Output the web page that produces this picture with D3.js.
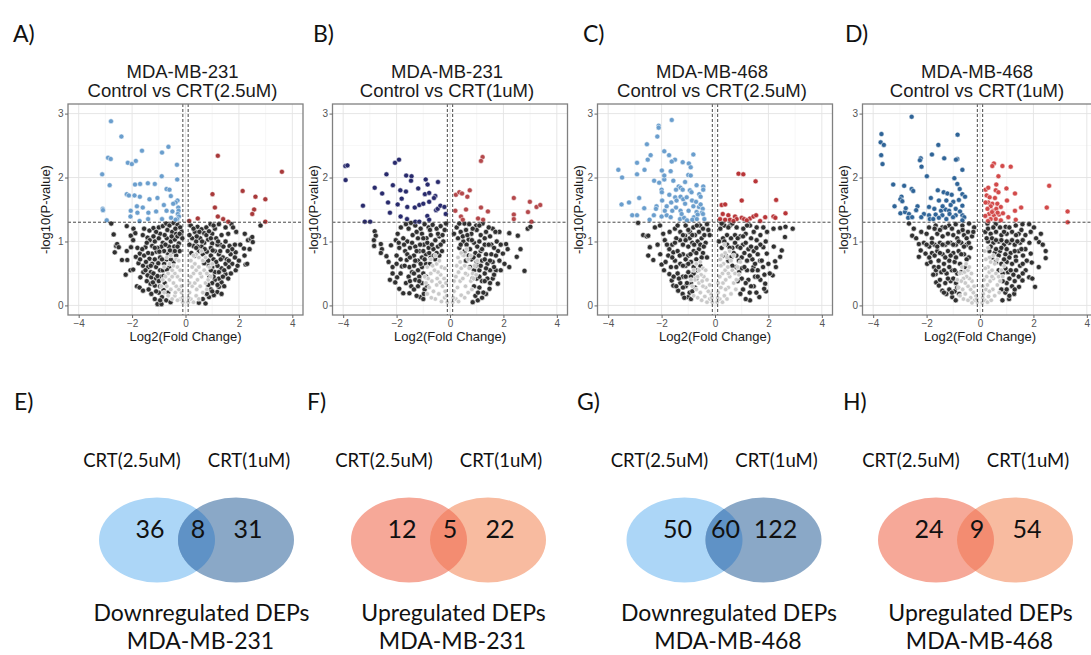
<!DOCTYPE html>
<html>
<head>
<meta charset="utf-8">
<script src="https://cdn.jsdelivr.net/npm/d3@7"></script>
<style>
  body { margin: 0; background: #fff; }
  svg { display: block; }
</style>
</head>
<body>
<div id="fig"></div>
<script>
// ===== data =====
var volcanoTitles = [
  ["MDA-MB-231", "Control vs CRT(2.5uM)"],
  ["MDA-MB-231", "Control vs CRT(1uM)"],
  ["MDA-MB-468", "Control vs CRT(2.5uM)"],
  ["MDA-MB-468", "Control vs CRT(1uM)"]
];
var topLetters = ["A)", "B)", "C)", "D)"];
var xTicks = [-4, -2, 0, 2, 4];
var xMinor = [-3, -1, 1, 3];
var yTicks = [0, 1, 2, 3];
var yMinor = [0.5, 1.5, 2.5];
var fcCut = 0.1;     // log2 fold change cut (dashed verticals)
var pCut = 1.301;    // -log10(0.05)

// panel A: MDA-MB-231, CRT 2.5uM  [log2FC, -log10 p]
var aDown = [[-2.79,2.88],[-2.4,2.64],[-2.9,2.31],[-2.8,2.29],[-3.12,2.05],[-2.84,1.88],[-3.1,1.51],[-3.09,1.49],[-2.95,1.33],[-2.16,2.23],[-2.01,2.21],[-1.86,2.26],[-1.63,2.42],[-0.88,2.39],[-0.64,2.48],[-0.32,2.2],[-0.31,1.97],[-0.89,2.02],[-1.89,1.89],[-1.7,1.9],[-1.41,1.91],[-1.15,1.9],[-2.2,1.74],[-2.12,1.72],[-1.91,1.72],[-1.71,1.7],[-1.35,1.66],[-1.05,1.68],[-0.71,1.82],[-0.6,1.81],[-0.55,1.71],[-0.3,1.64],[-0.37,1.61],[-0.46,1.59],[-0.81,1.57],[-1.82,1.55],[-1.6,1.53],[-2.05,1.48],[-1.8,1.45],[-1.39,1.45],[-1.1,1.47],[-0.71,1.48],[-0.49,1.47],[-0.27,1.53],[-0.26,1.48],[-0.29,1.43],[-0.25,1.39],[-0.31,1.35],[-2.06,1.39],[-1.72,1.32],[-1.4,1.35],[-0.88,1.35],[-0.54,1.37],[-0.37,1.34]];
var aUp = [[1.21,2.34],[3.61,2.09],[1.01,1.74],[2.14,1.79],[2.62,1.7],[2.99,1.66],[1.1,1.53],[2.57,1.5],[2.5,1.43],[1.21,1.39],[1.41,1.35],[1.6,1.31],[0.46,1.36],[0.14,1.32],[2.99,1.31]];
var aNs = [[-2.78,1.28],[-2.2,1.24],[-1.95,1.2],[-1.55,1.2],[-1.35,1.17],[-1.2,1.21],[-1.0,1.22],[-0.85,1.24],[-0.72,1.28],[-0.6,1.25],[-0.45,1.29],[-0.3,1.26],[-0.2,1.22],[-0.5,1.15],[-0.95,1.12],[-1.1,1.15],[-0.35,1.12],[-2.69,1.11],[-1.88,1.13],
  [0.2,1.25],[0.45,1.23],[0.6,1.19],[0.78,1.22],[0.94,1.27],[1.1,1.2],[1.25,1.27],[1.5,1.22],[1.72,1.27],[1.78,1.22],[0.35,1.15],[0.7,1.13],[1.0,1.12],[2.22,1.12],[2.81,1.25],
  [-2.05,1.09],[-1.96,1.02],[-2.6,0.93],[-2.56,0.96],[-2.5,0.91],[-1.8,0.9],[-1.5,0.91],[-1.42,1.06],[-1.34,1.02],[-1.15,1.0],[-1.0,1.05],[-0.85,0.98],[-0.7,1.05],[-0.55,1.0],[-0.4,1.03],[-0.25,0.97],[-0.62,0.92],[-1.25,0.93],[-0.9,0.92],[-0.3,1.08],
  [0.25,1.05],[0.4,1.0],[0.55,1.05],[0.7,0.98],[0.85,1.03],[1.0,0.97],[1.15,1.05],[1.3,0.95],[1.5,1.0],[1.65,0.93],[2.34,1.02],[2.44,1.04],[2.5,1.07],[2.52,0.99],[0.3,0.93],[0.6,0.92],[0.95,0.9],[1.85,0.95],
  [-2.65,0.83],[-2.2,0.85],[-2.04,0.91],[-2.38,0.71],[-2.18,0.71],[-1.71,0.81],[-1.86,0.76],[-1.25,0.81],[-1.08,0.84],[-1.35,0.73],[-1.55,0.78],[-0.95,0.75],[-0.8,0.85],[-0.65,0.8],[-0.5,0.84],[-0.35,0.78],[-0.22,0.85],[-1.15,0.72],[-0.7,0.72],
  [0.22,0.82],[0.35,0.78],[0.5,0.85],[0.65,0.8],[0.8,0.84],[0.95,0.78],[1.1,0.85],[1.25,0.8],[1.4,0.75],[1.69,0.8],[1.88,0.83],[2.19,0.89],[2.4,0.88],[2.21,0.78],[2.0,0.7],[1.55,0.72],[1.05,0.72],
  [-1.76,0.66],[-1.59,0.62],[-2.06,0.55],[-1.96,0.56],[-1.58,0.52],[-1.4,0.6],[-1.25,0.65],[-1.1,0.6],[-0.95,0.55],[-0.8,0.65],[-1.3,0.52],
  [1.75,0.65],[1.62,0.6],[1.88,0.55],[2.25,0.64],[2.31,0.65],[1.5,0.65],[1.35,0.58],[1.2,0.62],[1.1,0.52],
  [-2.24,0.48],[-1.69,0.44],[-1.42,0.47],[-1.28,0.44],[-1.31,0.34],[-1.15,0.31],[-1.1,0.42],[-1.0,0.38],[-0.9,0.45],
  [1.5,0.49],[1.35,0.36],[1.25,0.42],[1.1,0.4],[1.0,0.35],[1.6,0.42],[0.9,0.45],
  [-1.82,0.3],[-1.72,0.28],[-1.59,0.23],[-1.28,0.18],[-1.05,0.02],[-0.9,0.02],[-0.88,0.13],[-0.72,0.08],[-0.56,0.05],[-1.0,0.2],
  [1.25,0.29],[1.19,0.21],[0.75,0.03],[0.5,0.04],[0.88,0.13],[1.06,0.16],[0.95,0.25],[0.65,0.1],
  [-0.15,1.15],[-0.42,0.92],[-0.78,1.1],[-1.05,0.9],[-0.6,0.6],[-0.45,0.68],[-0.85,0.55],[0.15,1.1],[0.45,0.92],[0.78,1.1],[1.2,0.95],[0.88,0.62],[0.7,0.66],[1.0,0.6],[0.15,0.95],[-0.12,1.05]];
var aNsInner = [[-1.6,1.1],[-1.45,0.98],[-1.2,1.08],[-0.68,1.18],[-0.52,1.08],[-0.38,1.2],[-0.22,1.12],[-1.62,0.88],[-1.4,0.82],[-1.15,0.9],[-0.98,0.84],[-0.75,0.95],[-0.58,0.86],[-0.3,0.92],[-1.7,0.72],[-1.48,0.68],[-1.3,0.62],[-1.02,0.66],[-0.88,0.72],[-0.55,0.72],[-0.4,0.85],[-1.5,0.55],[-1.2,0.5],[-1.05,0.46],[-0.82,0.46],[-0.7,0.56],[-1.45,0.38],[-1.22,0.36],[-0.95,0.3],[-0.78,0.35],[-1.38,0.25],[-1.1,0.22],[-0.82,0.24],[-0.65,0.2],[-1.15,0.1],[-0.95,0.08],
  [0.3,1.2],[0.52,1.15],[0.88,1.16],[1.05,1.25],[1.35,1.1],[1.6,1.12],[1.9,1.15],[0.42,1.08],[0.62,1.0],[0.95,1.05],[1.22,1.0],[1.42,0.92],[1.75,0.88],[2.05,0.95],[0.4,0.9],[0.72,0.88],[1.02,0.86],[1.3,0.85],[1.58,0.85],[1.85,0.75],[0.85,0.7],[1.15,0.68],[1.32,0.72],[1.62,0.7],[1.95,0.62],[0.95,0.55],[1.25,0.52],[1.45,0.55],[1.7,0.5],[1.05,0.45],[1.4,0.45],[1.2,0.32],[1.45,0.3],[0.85,0.32],[1.0,0.22],[0.8,0.18],[1.35,0.18]];
var aCore = [[-0.1,0.05],[-0.2,0.1],[-0.3,0.08],[-0.15,0.2],[-0.25,0.25],[-0.4,0.15],[-0.5,0.1],[-0.35,0.3],[-0.45,0.35],[-0.55,0.25],[-0.6,0.4],[-0.3,0.45],[-0.2,0.4],[-0.4,0.5],[-0.5,0.55],[-0.65,0.5],[-0.7,0.3],[-0.75,0.45],[-0.6,0.65],[-0.45,0.62],[-0.3,0.6],[-0.2,0.55],[-0.8,0.6],[-0.85,0.4],[-0.7,0.75],[-0.55,0.78],[-0.35,0.72],[-0.25,0.7],[-0.15,0.3],[-0.65,0.15],[-0.8,0.2],[-0.9,0.3],[-0.5,0.45],[-0.38,0.2],[-0.12,0.12],
  [0.1,0.05],[0.2,0.1],[0.3,0.05],[0.15,0.2],[0.25,0.3],[0.4,0.15],[0.5,0.1],[0.35,0.35],[0.45,0.4],[0.55,0.3],[0.6,0.45],[0.3,0.5],[0.2,0.45],[0.4,0.55],[0.5,0.6],[0.7,0.55],[0.75,0.35],[0.8,0.5],[0.65,0.7],[0.5,0.75],[0.35,0.65],[0.25,0.6],[0.9,0.6],[0.85,0.4],[0.75,0.75],[0.6,0.85],[0.4,0.8],[0.3,0.78],[0.15,0.35],[0.65,0.2],[0.8,0.25],[0.95,0.45],[0.55,0.5],[0.42,0.25],[0.12,0.12],[1.0,0.65],[0.2,0.7]];

// panel B: MDA-MB-231, CRT 1uM
var bDown = [[-3.92,2.18],[-3.84,2.19],[-3.91,1.96],[-2.06,2.23],[-1.91,2.28],[-2.38,2.05],[-1.64,2.03],[-1.44,2.02],[-1.46,1.95],[-0.91,1.97],[-0.45,1.93],[-0.84,1.89],[-2.82,1.84],[-2.14,1.88],[-1.86,1.8],[-1.65,1.78],[-1.19,1.83],[-0.94,1.74],[-0.78,1.76],[-2.54,1.75],[-0.55,1.71],[-0.6,1.68],[-1.81,1.67],[-3.26,1.56],[-2.32,1.61],[-1.96,1.58],[-1.6,1.54],[-1.32,1.53],[-1.15,1.57],[-1.0,1.59],[-0.78,1.62],[-0.52,1.49],[-0.46,1.51],[-0.36,1.56],[-0.21,1.54],[-0.16,1.43],[-2.25,1.45],[-1.85,1.39],[-1.61,1.35],[-3.19,1.31],[-2.99,1.31],[-1.3,1.31],[-1.15,1.31],[-0.85,1.4],[-0.78,1.34]];
var bUp = [[1.22,2.32],[1.16,2.26],[0.22,1.73],[0.35,1.77],[0.45,1.75],[0.74,1.8],[0.65,1.7],[2.39,1.68],[2.99,1.62],[3.24,1.54],[3.38,1.57],[0.2,1.48],[0.6,1.5],[1.16,1.53],[1.42,1.47],[0.41,1.39],[0.48,1.34],[1.05,1.36],[1.24,1.34],[2.39,1.42],[2.39,1.35],[2.92,1.46],[3.05,1.31]];
var bNs = [[-2.82,1.16],[-2.78,1.09],[-2.85,1.02],[-2.84,0.93],[-2.59,0.96],[-2.55,0.88],[-2.59,0.82],[-2.38,0.77],[-2.3,0.68],[-2.15,0.6],[-2.21,0.94],[-2.03,1.02],[-1.96,1.12],[-1.84,1.22],[-1.65,1.27],[-1.46,1.29],[-2.25,0.4],[-2.05,0.36],[-1.98,0.44],[-1.9,0.26],[-1.75,0.19],[-1.52,0.19],[-1.11,0.13],[-1.0,0.1],[-1.68,0.85],[-1.62,0.71],[-1.52,0.6],[-1.42,0.52],[-1.8,0.61],
  [0.54,1.28],[0.72,1.27],[0.98,1.25],[1.22,1.28],[1.6,1.2],[1.85,1.15],[2.22,1.13],[2.54,1.09],[2.64,0.88],[2.5,0.76],[2.79,0.54],[2.91,1.2],[3.01,1.23],[2.1,0.96],[2.16,0.88],[1.98,0.81],[2.04,0.65],[2.22,0.6],[1.72,0.55],[1.6,0.42],[1.79,0.34],[1.48,0.26],[1.35,0.18],[1.04,0.08],[0.85,0.05],
  [-1.3,1.25],[-1.1,1.2],[-0.95,1.27],[-0.8,1.22],[-0.65,1.26],[-0.5,1.2],[-0.35,1.24],[-0.2,1.18],[-1.4,1.1],[-1.2,1.05],[-1.05,1.12],[-0.88,1.05],[-0.72,1.1],[-0.55,1.02],[-0.4,1.08],[-0.25,1.0],[-1.6,1.0],[-1.75,1.05],[-1.5,0.9],[-1.3,0.92],[-1.15,0.85],[-0.98,0.95],[-0.8,0.9],[-0.62,0.88],[-0.45,0.92],[-0.3,0.85],[-1.9,0.9],[-2.0,0.78],[-1.85,0.72],[-1.35,0.78],[-1.2,0.7],[-1.05,0.75],[-0.9,0.8],[-0.72,0.75],[-0.55,0.72],[-0.4,0.78],[-1.35,0.62],[-1.2,0.55],[-1.05,0.6],[-0.9,0.65],[-1.3,0.4],[-1.15,0.45],[-1.0,0.5],[-1.2,0.3],[-1.05,0.35],[-0.95,0.25],[-2.15,0.5],[-1.65,0.35],[-1.45,0.3],
  [0.25,1.22],[0.4,1.15],[0.6,1.18],[0.8,1.12],[1.0,1.18],[1.15,1.1],[1.35,1.15],[1.5,1.08],[0.3,1.05],[0.5,1.0],[0.7,1.03],[0.9,0.98],[1.1,1.0],[1.3,0.95],[1.55,0.95],[1.75,1.0],[0.35,0.9],[0.55,0.85],[0.75,0.88],[0.95,0.82],[1.15,0.85],[1.35,0.8],[1.55,0.8],[1.8,0.85],[0.6,0.7],[0.8,0.72],[1.0,0.68],[1.2,0.7],[1.4,0.65],[1.6,0.68],[1.85,0.7],[0.9,0.55],[1.1,0.55],[1.3,0.5],[1.5,0.55],[1.0,0.42],[1.2,0.38],[1.4,0.42],[1.1,0.28],[1.25,0.2],[0.95,0.15],[0.15,1.12],[-0.15,1.28]];
var bNsInner = [[-1.55,1.2],[-1.25,1.15],[-1.0,1.05],[-0.75,1.18],[-0.45,1.12],[-0.28,1.1],[-1.72,0.95],[-1.42,0.98],[-1.12,0.95],[-0.85,0.98],[-0.68,0.95],[-0.5,0.82],[-0.35,0.95],[-1.6,0.8],[-1.25,0.85],[-1.0,0.85],[-0.78,0.82],[-0.6,0.78],[-1.7,0.62],[-1.5,0.75],[-1.3,0.7],[-1.1,0.65],[-0.95,0.72],[-0.75,0.65],[-1.55,0.45],[-1.35,0.5],[-1.15,0.38],[-0.9,0.45],[-1.5,0.38],[-1.35,0.25],[-1.25,0.15],[-0.98,0.18],[-0.85,0.3],[-1.85,0.5],[-2.0,0.65],[-1.92,0.98],
  [0.35,1.28],[0.48,1.08],[0.65,1.1],[0.85,1.2],[1.1,1.25],[1.3,1.05],[1.45,1.22],[1.7,1.15],[0.4,0.95],[0.62,0.95],[0.82,1.02],[1.02,0.92],[1.2,0.88],[1.45,0.95],[1.65,0.9],[1.9,0.95],[0.5,0.8],[0.7,0.78],[0.88,0.75],[1.08,0.78],[1.3,0.72],[1.5,0.7],[1.72,0.78],[0.75,0.6],[0.95,0.62],[1.15,0.62],[1.35,0.58],[1.65,0.6],[1.9,0.55],[0.85,0.42],[1.1,0.45],[1.3,0.38],[1.5,0.35],[1.65,0.48],[0.9,0.3],[1.2,0.12],[1.05,0.2]];
var bCore = [[-0.1,0.05],[-0.2,0.12],[-0.32,0.06],[-0.18,0.22],[-0.28,0.3],[-0.42,0.18],[-0.55,0.1],[-0.38,0.36],[-0.5,0.32],[-0.62,0.22],[-0.68,0.38],[-0.35,0.48],[-0.22,0.42],[-0.45,0.52],[-0.58,0.55],[-0.72,0.5],[-0.78,0.28],[-0.82,0.42],[-0.65,0.62],[-0.5,0.65],[-0.32,0.6],[-0.2,0.58],[-0.85,0.6],[-0.9,0.35],[-0.72,0.72],[-0.55,0.78],[-0.4,0.7],[-0.15,0.35],[-0.7,0.12],[-0.85,0.18],[-0.95,0.45],[-0.48,0.42],[-0.12,0.15],
  [0.1,0.05],[0.22,0.1],[0.32,0.06],[0.15,0.22],[0.28,0.28],[0.42,0.16],[0.55,0.12],[0.38,0.38],[0.48,0.42],[0.58,0.3],[0.65,0.48],[0.32,0.52],[0.22,0.45],[0.42,0.58],[0.55,0.62],[0.72,0.58],[0.78,0.38],[0.85,0.5],[0.68,0.72],[0.52,0.78],[0.38,0.68],[0.25,0.62],[0.92,0.62],[0.88,0.42],[0.78,0.78],[0.62,0.88],[0.42,0.82],[0.15,0.38],[0.68,0.2],[0.82,0.25],[0.98,0.48],[0.58,0.5],[0.12,0.12],[1.02,0.7],[0.3,0.75]];

// panel C: MDA-MB-468, CRT 2.5uM
var cDown = [[-1.62,2.9],[-2.11,2.81],[-2.11,2.78],[-2.16,2.64],[-2.55,2.52],[-2.41,2.35],[-2.52,2.28],[-2.92,2.23],[-1.9,2.41],[-1.72,2.35],[-1.5,2.28],[-1.62,2.25],[-1.21,2.24],[-0.98,2.22],[-0.81,2.36],[-0.91,2.16],[-3.62,2.12],[-3.48,2.0],[-2.64,2.12],[-2.92,2.05],[-1.99,2.11],[-1.66,2.1],[-2.28,1.95],[-1.9,1.97],[-2.09,1.92],[-1.9,2.03],[-1.0,2.04],[-0.91,2.03],[-1.36,1.86],[-1.29,1.84],[-1.21,1.81],[-1.46,1.81],[-2.0,1.81],[-1.99,1.77],[-0.94,1.8],[-0.88,1.77],[-0.59,1.74],[-0.54,1.7],[-0.44,1.86],[-0.44,1.81],[-1.71,1.73],[-1.49,1.69],[-1.29,1.7],[-1.19,1.66],[-2.84,1.68],[-3.5,1.58],[-3.22,1.61],[-1.98,1.64],[-1.64,1.61],[-0.86,1.64],[-0.71,1.62],[-2.19,1.55],[-2.21,1.51],[-1.81,1.55],[-1.46,1.53],[-1.12,1.59],[-0.81,1.55],[-0.6,1.54],[-0.46,1.51],[-2.65,1.52],[-1.6,1.48],[-1.29,1.48],[-0.99,1.48],[-0.69,1.46],[-0.49,1.45],[-2.29,1.41],[-2.0,1.39],[-1.81,1.41],[-3.1,1.41],[-2.92,1.41],[-1.66,1.38],[-1.31,1.35],[-1.16,1.37],[-0.79,1.38],[-0.65,1.42],[-0.45,1.43],[-0.85,1.34],[-0.68,1.35],[-1.56,1.95],[-1.12,1.93],[-0.69,1.88],[-1.06,1.69],[-1.44,1.64],[-1.88,1.48],[-1.25,1.43],[-0.54,1.58],[-0.4,1.35],[-1.05,1.33],[-2.45,1.34]];
var cUp = [[0.88,2.06],[1.06,2.05],[1.52,1.94],[2.29,1.65],[1.0,1.64],[0.25,1.57],[0.38,1.58],[2.64,1.44],[0.29,1.43],[0.5,1.41],[0.19,1.35],[0.38,1.34],[0.75,1.39],[0.81,1.35],[1.0,1.37],[1.09,1.35],[1.31,1.36],[1.44,1.39],[1.54,1.41],[1.88,1.38],[2.19,1.39],[2.26,1.37],[0.56,1.34],[0.69,1.32],[1.19,1.33],[1.69,1.32]];
var cNs = [[-2.88,1.29],[-2.69,1.1],[-2.56,1.08],[-2.5,1.09],[-2.44,0.91],[-2.5,0.78],[-2.31,0.71],[-2.25,1.22],[-2.06,1.25],[-1.94,1.12],[-1.88,1.02],[-2.0,0.64],[-1.91,0.55],[-1.71,0.49],[-1.62,0.39],[-1.56,0.31],[-1.38,0.23],[-1.21,0.18],[-1.0,0.13],[-1.71,0.88],[-1.75,0.78],[-1.56,0.83],[-1.31,1.02],[-1.12,1.09],[-0.94,1.15],[-0.81,1.22],[-0.56,1.25],
  [0.56,1.25],[0.81,1.22],[1.06,1.2],[1.31,1.25],[1.56,1.22],[1.81,1.22],[2.19,1.2],[2.44,1.21],[2.64,1.23],[2.91,1.2],[2.62,1.07],[2.5,0.86],[2.44,0.76],[2.25,0.69],[2.28,0.6],[2.16,0.47],[1.88,0.34],[1.91,0.22],[1.84,0.26],[1.66,0.13],[1.31,0.08],[1.56,1.02],[1.81,0.91],[1.94,0.81],[1.69,0.7],[1.44,0.6],
  [-1.5,1.2],[-1.3,1.15],[-1.1,1.25],[-0.95,1.05],[-0.75,1.1],[-0.6,1.15],[-0.45,1.2],[-0.3,1.27],[-0.2,1.1],[-1.45,1.05],[-1.6,0.95],[-1.2,0.95],[-1.0,0.92],[-0.85,0.98],[-0.65,1.0],[-0.5,1.05],[-0.35,0.98],[-1.4,0.85],[-1.2,0.8],[-1.0,0.78],[-0.8,0.85],[-0.6,0.88],[-0.45,0.82],[-0.3,0.75],[-1.5,0.7],[-1.3,0.65],[-1.1,0.62],[-0.9,0.68],[-0.7,0.72],[-0.55,0.62],[-1.85,0.68],[-1.4,0.5],[-1.2,0.45],[-1.0,0.52],[-0.8,0.5],[-1.3,0.35],[-1.1,0.3],[-0.9,0.35],[-0.95,0.2],[-0.75,0.28],[-2.15,0.95],[-2.05,0.8],
  [0.2,1.2],[0.35,1.25],[0.45,1.1],[0.3,1.05],[0.6,1.05],[0.75,1.1],[0.95,1.08],[1.15,1.12],[1.35,1.05],[0.25,0.9],[0.45,0.95],[0.65,0.9],[0.85,0.92],[1.05,0.95],[1.25,0.88],[1.45,0.85],[1.7,0.95],[0.4,0.78],[0.6,0.75],[0.8,0.78],[1.0,0.75],[1.2,0.7],[1.4,0.72],[1.6,0.8],[0.8,0.6],[1.0,0.58],[1.2,0.55],[1.6,0.55],[1.8,0.6],[2.0,0.65],[1.0,0.42],[1.25,0.4],[1.5,0.45],[1.7,0.4],[1.05,0.25],[1.3,0.2],[1.45,0.3],[2.05,0.5],[2.2,0.92],[0.15,1.0]];
var cNsInner = [[-1.7,1.15],[-1.4,1.25],[-1.2,1.1],[-1.0,1.18],[-0.85,1.1],[-0.68,1.25],[-0.4,1.1],[-0.25,1.18],[-1.8,0.95],[-1.5,0.98],[-1.1,1.02],[-0.78,0.95],[-0.55,0.95],[-0.42,0.92],[-1.6,0.75],[-1.32,0.78],[-1.1,0.72],[-0.92,0.8],[-0.7,0.82],[-0.5,0.75],[-1.65,0.6],[-1.45,0.6],[-1.2,0.62],[-1.0,0.65],[-0.8,0.6],[-0.65,0.55],[-1.55,0.45],[-1.35,0.42],[-1.1,0.45],[-0.9,0.45],[-0.7,0.42],[-1.45,0.3],[-1.2,0.28],[-1.05,0.35],[-0.85,0.22],[-1.15,0.12],[-0.9,0.1],
  [0.25,1.28],[0.5,1.22],[0.65,1.28],[0.85,1.05],[1.05,1.08],[1.2,1.25],[1.45,1.15],[1.7,1.1],[1.95,1.15],[0.35,1.0],[0.55,0.9],[0.75,0.98],[0.95,0.9],[1.15,0.98],[1.35,0.92],[1.55,0.9],[1.9,1.0],[0.3,0.78],[0.5,0.7],[0.7,0.82],[0.9,0.7],[1.1,0.82],[1.3,0.78],[1.5,0.65],[1.75,0.7],[0.65,0.62],[0.9,0.52],[1.1,0.6],[1.4,0.55],[1.6,0.45],[1.85,0.48],[0.85,0.38],[1.15,0.35],[1.35,0.3],[0.95,0.18],[1.15,0.1],[1.55,0.2]];
var cCore = [[-0.1,0.05],[-0.2,0.1],[-0.3,0.05],[-0.15,0.18],[-0.25,0.22],[-0.38,0.14],[-0.5,0.08],[-0.35,0.28],[-0.45,0.3],[-0.55,0.2],[-0.6,0.35],[-0.3,0.4],[-0.42,0.45],[-0.52,0.48],[-0.65,0.45],[-0.7,0.25],[-0.75,0.4],[-0.6,0.55],[-0.45,0.58],[-0.35,0.55],[-0.8,0.55],[-0.85,0.3],[-0.7,0.65],[-0.55,0.68],[-0.65,0.12],[-0.8,0.15],[-0.9,0.4],[-0.48,0.38],[-0.12,0.12],[-0.2,0.32],
  [0.08,0.05],[0.18,0.1],[0.28,0.05],[0.12,0.2],[0.22,0.28],[0.35,0.15],[0.45,0.1],[0.3,0.35],[0.4,0.4],[0.5,0.28],[0.55,0.45],[0.28,0.5],[0.18,0.45],[0.38,0.55],[0.48,0.6],[0.65,0.55],[0.7,0.35],[0.75,0.5],[0.6,0.7],[0.45,0.75],[0.32,0.65],[0.22,0.62],[0.85,0.6],[0.8,0.4],[0.7,0.78],[0.55,0.85],[0.38,0.82],[0.25,0.78],[0.12,0.35],[0.6,0.18],[0.78,0.25],[0.9,0.48],[0.5,0.5],[0.4,0.25],[0.1,0.12],[0.95,0.68],[0.2,0.72],[0.35,0.95]];

// panel D: MDA-MB-468, CRT 1uM
var dDown = [[-2.56,2.95],[-3.69,2.68],[-3.72,2.55],[-3.6,2.51],[-3.7,2.35],[-3.65,2.21],[-0.84,2.67],[-1.56,2.51],[-1.8,2.36],[-2.22,2.3],[-2.25,2.27],[-1.34,2.3],[-0.85,2.29],[-0.9,2.28],[-2.19,2.17],[-0.66,2.12],[-1.99,2.02],[-0.96,1.99],[-3.25,1.89],[-2.84,1.87],[-2.56,1.82],[-2.5,1.79],[-0.85,1.9],[-0.76,1.82],[-1.58,1.8],[-1.36,1.77],[-1.22,1.75],[-1.06,1.73],[-0.66,1.74],[-0.56,1.7],[-2.94,1.7],[-2.98,1.66],[-2.91,1.63],[-1.84,1.68],[-1.54,1.64],[-1.26,1.64],[-1.0,1.62],[-0.79,1.65],[-3.2,1.55],[-2.34,1.55],[-2.39,1.49],[-1.91,1.54],[-1.71,1.51],[-1.46,1.48],[-1.29,1.5],[-1.16,1.48],[-0.91,1.51],[-0.66,1.56],[-2.98,1.44],[-2.81,1.46],[-2.66,1.43],[-2.1,1.43],[-1.91,1.41],[-1.66,1.42],[-1.41,1.41],[-1.14,1.43],[-0.91,1.41],[-2.69,1.37],[-2.54,1.38],[-1.88,1.35],[-1.54,1.37],[-1.26,1.35],[-1.01,1.38],[-0.66,1.41],[-0.59,1.38],[-0.66,1.33],[-1.4,1.55],[-1.1,1.57],[-0.75,1.47],[-2.78,1.52],[-1.75,1.35],[-2.2,1.38]];
var dUp = [[0.52,2.22],[0.46,2.18],[0.84,2.18],[1.15,2.17],[0.69,2.02],[0.21,1.81],[0.31,1.84],[0.61,1.89],[0.59,1.8],[0.69,1.77],[0.99,1.83],[1.31,1.75],[2.59,1.87],[0.25,1.72],[0.36,1.69],[0.56,1.68],[1.01,1.64],[0.31,1.61],[0.46,1.59],[0.4,1.55],[0.65,1.59],[0.78,1.54],[0.28,1.51],[0.49,1.48],[0.61,1.51],[1.54,1.53],[2.5,1.53],[1.31,1.48],[3.28,1.47],[3.28,1.3],[0.34,1.43],[0.52,1.41],[0.71,1.42],[0.86,1.44],[0.4,1.35],[0.59,1.35],[0.78,1.33],[1.34,1.34],[1.06,1.38],[0.21,1.61],[0.2,1.4],[0.3,1.32],[0.66,1.45],[0.45,1.46]];
var dNs = [[-2.66,1.28],[-2.48,1.2],[-2.54,1.09],[-2.39,1.05],[-2.29,0.96],[-2.22,0.86],[-2.29,0.76],[-2.04,0.81],[-1.98,0.65],[-1.85,0.68],[-1.72,0.6],[-1.66,0.49],[-1.64,0.36],[-1.54,0.31],[-1.41,0.23],[-1.26,0.18],[-1.04,0.13],[-0.91,0.08],[-1.91,1.22],[-1.66,1.25],[-1.41,1.22],[-1.16,1.25],[-0.91,1.27],[-0.66,1.25],[-0.41,1.28],[-0.22,1.22],
  [0.28,1.28],[0.59,1.27],[0.96,1.23],[1.34,1.25],[1.59,1.27],[1.84,1.27],[2.02,1.22],[2.28,1.12],[2.21,0.99],[2.46,0.85],[2.46,0.74],[1.9,0.81],[1.61,0.78],[1.94,0.67],[1.34,0.76],[1.71,0.55],[1.84,0.44],[2.06,0.29],[1.59,0.39],[1.46,0.29],[1.28,0.18],[1.09,0.1],[0.84,0.08],[1.96,0.42],
  [-2.0,1.12],[-1.8,1.05],[-1.6,1.12],[-1.4,1.08],[-1.2,1.12],[-1.0,1.1],[-0.8,1.15],[-0.6,1.1],[-0.45,1.15],[-0.3,1.08],[-2.1,0.98],[-1.9,0.92],[-1.7,0.95],[-1.5,0.98],[-1.3,0.95],[-1.1,0.98],[-0.9,0.95],[-0.7,0.98],[-0.5,0.95],[-0.35,0.9],[-1.8,0.82],[-1.6,0.85],[-1.4,0.8],[-1.2,0.85],[-1.0,0.82],[-0.8,0.85],[-0.6,0.8],[-0.42,0.75],[-1.55,0.7],[-1.35,0.65],[-1.15,0.7],[-0.95,0.68],[-0.75,0.65],[-0.55,0.6],[-1.45,0.52],[-1.25,0.5],[-1.05,0.55],[-0.85,0.5],[-1.3,0.35],[-1.1,0.38],[-0.9,0.35],[-1.15,0.25],[-0.95,0.22],[-0.78,0.18],[-1.65,0.55],
  [0.2,1.15],[0.4,1.12],[0.6,1.15],[0.8,1.1],[1.0,1.12],[1.2,1.15],[1.45,1.12],[1.7,1.1],[0.3,1.0],[0.5,0.98],[0.7,1.0],[0.9,0.95],[1.1,0.98],[1.3,0.95],[1.5,0.98],[0.35,0.85],[0.55,0.82],[0.75,0.85],[0.95,0.8],[1.15,0.82],[1.45,0.85],[1.7,0.88],[0.6,0.68],[0.8,0.65],[1.0,0.68],[1.2,0.65],[1.5,0.62],[1.75,0.7],[0.85,0.5],[1.05,0.52],[1.25,0.48],[1.45,0.45],[1.0,0.35],[1.2,0.3],[0.95,0.2],[1.1,0.15],[2.2,0.6],[2.35,0.95]];
var dNsInner = [[-2.2,1.15],[-1.7,1.2],[-1.5,1.18],[-1.3,1.22],[-1.05,1.2],[-0.85,1.05],[-0.65,1.18],[-0.5,1.05],[-0.25,1.15],[-2.0,0.95],[-1.8,0.98],[-1.6,0.92],[-1.4,0.95],[-1.2,0.98],[-1.0,0.95],[-0.8,1.0],[-0.6,0.92],[-0.42,0.98],[-1.9,0.75],[-1.7,0.78],[-1.5,0.82],[-1.3,0.75],[-1.1,0.78],[-0.9,0.75],[-0.7,0.8],[-0.5,0.72],[-1.75,0.48],[-1.55,0.6],[-1.35,0.55],[-1.15,0.6],[-0.95,0.55],[-0.7,0.52],[-1.5,0.4],[-1.2,0.42],[-1.0,0.42],[-0.85,0.28],[-1.35,0.2],[-1.05,0.2],
  [0.3,1.2],[0.5,1.22],[0.75,1.22],[0.9,1.15],[1.1,1.22],[1.35,1.1],[1.55,1.18],[1.9,1.15],[2.1,1.05],[0.25,1.05],[0.45,1.05],[0.6,1.02],[0.8,1.02],[1.0,1.0],[1.2,1.02],[1.4,1.0],[1.6,1.02],[1.85,0.98],[0.4,0.92],[0.6,0.88],[0.8,0.9],[1.0,0.88],[1.3,0.85],[1.55,0.88],[0.45,0.75],[0.7,0.78],[0.9,0.72],[1.1,0.75],[1.35,0.7],[1.6,0.65],[0.7,0.55],[0.95,0.58],[1.15,0.55],[1.35,0.55],[1.6,0.5],[0.85,0.38],[1.1,0.42],[1.3,0.38],[0.8,0.25],[1.0,0.25],[1.3,0.25]];
var dCore = [[-0.1,0.05],[-0.2,0.08],[-0.3,0.04],[-0.15,0.15],[-0.25,0.2],[-0.35,0.12],[-0.45,0.08],[-0.35,0.25],[-0.45,0.3],[-0.55,0.18],[-0.55,0.35],[-0.3,0.38],[-0.4,0.42],[-0.5,0.45],[-0.62,0.42],[-0.65,0.25],[-0.7,0.38],[-0.58,0.52],[-0.45,0.55],[-0.32,0.5],[-0.75,0.5],[-0.8,0.28],[-0.68,0.6],[-0.52,0.65],[-0.62,0.1],[-0.75,0.15],[-0.85,0.4],[-0.12,0.1],[-0.22,0.3],[-0.4,0.6],
  [0.08,0.04],[0.18,0.08],[0.28,0.05],[0.12,0.18],[0.22,0.25],[0.32,0.14],[0.42,0.08],[0.28,0.32],[0.38,0.38],[0.48,0.25],[0.5,0.42],[0.25,0.45],[0.15,0.4],[0.35,0.52],[0.45,0.55],[0.6,0.5],[0.65,0.32],[0.7,0.45],[0.55,0.65],[0.4,0.68],[0.3,0.6],[0.2,0.58],[0.8,0.55],[0.75,0.38],[0.65,0.72],[0.5,0.78],[0.35,0.75],[0.22,0.72],[0.1,0.3],[0.55,0.15],[0.72,0.2],[0.85,0.45],[0.45,0.45],[0.35,0.22],[0.1,0.12],[0.9,0.62],[0.18,0.85],[0.3,0.9]];

// Venn diagrams: [only 2.5uM, both, only 1uM]
var vennLetters = ["E)", "F)", "G)", "H)"];
var vennSets = ["CRT(2.5uM)", "CRT(1uM)"];
var vennCounts = [[36, 8, 31], [12, 5, 22], [50, 60, 122], [24, 9, 54]];
var vennTitles = ["Downregulated DEPs", "Upregulated DEPs", "Downregulated DEPs", "Upregulated DEPs"];
var vennLines = ["MDA-MB-231", "MDA-MB-231", "MDA-MB-468", "MDA-MB-468"];

// ===== drawing =====
var W = 1091, H = 655;
var svg = d3.select("#fig").append("svg")
  .attr("width", W)
  .attr("height", H);

var plotFont = "'Liberation Sans', Arial, sans-serif";
var slideFont = "Lato, 'Open Sans', sans-serif";

var panelLeft = [68, 332.5, 597.5, 862.5];
var yTitleX = [50, 318, 583, 848];
var letterX = [13, 313, 583, 845];
var panelTop = 104, panelW = 235, panelH = 211;

var panels = [
  {down: aDown, up: aUp, ns: aNs.concat(aNsInner), core: aCore, blue: "#6a9ecd", red: "#a8393a"},
  {down: bDown, up: bUp, ns: bNs.concat(bNsInner), core: bCore, blue: "#282a6c", red: "#b4484b"},
  {down: cDown, up: cUp, ns: cNs.concat(cNsInner), core: cCore, blue: "#6a9ecd", red: "#b83538"},
  {down: dDown, up: dUp, ns: dNs.concat(dNsInner), core: dCore, blue: "#2f6497", red: "#d24a4a"}
];

panels.forEach(function(p, i) {
  var left = panelLeft[i];
  var xScale = d3.scaleLinear().domain([-4.4, 4.4]).range([0, panelW]);
  var yScale = d3.scaleLinear().domain([-0.15, 3.15]).range([panelH, 0]);

  // letter + title
  svg.append("text")
    .attr("x", letterX[i]).attr("y", 42)
    .style("font-family", slideFont).style("font-size", "23px").attr("fill", "#111")
    .text(topLetters[i]);
  var cx = left + panelW / 2 - 3;
  svg.append("text")
    .attr("x", cx).attr("y", 78).attr("text-anchor", "middle")
    .style("font-family", plotFont).style("font-size", "18.5px").attr("fill", "#1a1a1a")
    .text(volcanoTitles[i][0]);
  svg.append("text")
    .attr("x", cx).attr("y", 97).attr("text-anchor", "middle")
    .style("font-family", plotFont).style("font-size", "18.5px").attr("fill", "#1a1a1a")
    .text(volcanoTitles[i][1]);

  var g = svg.append("g").attr("transform", `translate(${left}, ${panelTop})`);

  g.append("clipPath").attr("id", "clip" + i)
    .append("rect").attr("width", panelW).attr("height", panelH);

  // grid
  g.selectAll(".vminor").data(xMinor).enter().append("line")
    .attr("x1", d => xScale(d)).attr("x2", d => xScale(d))
    .attr("y1", 0).attr("y2", panelH)
    .attr("stroke", "#f2f2f2").attr("stroke-width", 0.6);
  g.selectAll(".hminor").data(yMinor).enter().append("line")
    .attr("y1", d => yScale(d)).attr("y2", d => yScale(d))
    .attr("x1", 0).attr("x2", panelW)
    .attr("stroke", "#f2f2f2").attr("stroke-width", 0.6);
  g.selectAll(".vmajor").data(xTicks).enter().append("line")
    .attr("x1", d => xScale(d)).attr("x2", d => xScale(d))
    .attr("y1", 0).attr("y2", panelH)
    .attr("stroke", "#e3e3e3").attr("stroke-width", 0.9);
  g.selectAll(".hmajor").data(yTicks).enter().append("line")
    .attr("y1", d => yScale(d)).attr("y2", d => yScale(d))
    .attr("x1", 0).attr("x2", panelW)
    .attr("stroke", "#e3e3e3").attr("stroke-width", 0.9);

  // points
  var pts = g.append("g").attr("clip-path", `url(#clip${i})`);
  function dots(data, fill, r, stroke) {
    pts.selectAll(null).data(data).enter().append("circle")
      .attr("cx", d => xScale(d[0]))
      .attr("cy", d => yScale(d[1]))
      .attr("r", r)
      .attr("fill", fill)
      .attr("stroke", "#fff")
      .attr("stroke-width", stroke);
  }
  dots(p.ns, "#303030", 2.6, 0.6);
  dots(p.core, "#c9c9c9", 2.3, 0.6);
  dots(p.down, p.blue, 2.5, 0.5);
  dots(p.up, p.red, 2.5, 0.5);

  // threshold lines
  [-fcCut, fcCut].forEach(function(v) {
    g.append("line")
      .attr("x1", xScale(v)).attr("x2", xScale(v))
      .attr("y1", 0).attr("y2", panelH)
      .attr("stroke", "#333").attr("stroke-width", 0.9)
      .attr("stroke-dasharray", "3,2");
  });
  g.append("line")
    .attr("x1", 0).attr("x2", panelW)
    .attr("y1", yScale(pCut)).attr("y2", yScale(pCut))
    .attr("stroke", "#333").attr("stroke-width", 0.9)
    .attr("stroke-dasharray", "3,2");

  // border
  g.append("rect")
    .attr("width", panelW).attr("height", panelH)
    .attr("fill", "none").attr("stroke", "#808080").attr("stroke-width", 1.3);

  // axes
  var xAxis = g.append("g")
    .attr("transform", `translate(0, ${panelH})`)
    .call(d3.axisBottom(xScale).tickValues(xTicks).tickSize(3).tickPadding(2));
  var yAxis = g.append("g")
    .call(d3.axisLeft(yScale).tickValues(yTicks).tickFormat(d3.format("d")).tickSize(3).tickPadding(1.5));
  [xAxis, yAxis].forEach(function(ax) {
    ax.select(".domain").remove();
    ax.selectAll("line").attr("stroke", "#666");
    ax.selectAll("text").attr("fill", "#555")
      .style("font-family", plotFont).style("font-size", "10px");
  });

  // axis titles
  svg.append("text")
    .attr("x", left + panelW / 2).attr("y", panelTop + panelH + 26)
    .attr("text-anchor", "middle")
    .style("font-family", plotFont).style("font-size", "13px").attr("fill", "#1a1a1a")
    .text("Log2(Fold Change)");
  svg.append("text")
    .attr("transform", `translate(${yTitleX[i]}, ${panelTop + panelH / 2}) rotate(-90)`)
    .attr("text-anchor", "middle")
    .style("font-family", plotFont).style("font-size", "13px").attr("fill", "#1a1a1a")
    .text("-log10(P-value)");
});

// ===== Venn diagrams =====
var vennLeft = [157, 409, 684.5, 936];
var vennGap = 79;
var vennLetterX = [14, 307, 577, 843];
var vennCy = 540, vennRx = 58, vennRy = 42.5;
var vennColors = [
  {a: "#acd6f7", b: "#8aa8c7", ab: "#5f92c6"},
  {a: "#f6a898", b: "#f8bba0", ab: "#f38c71"},
  {a: "#acd6f7", b: "#8aa8c7", ab: "#5f92c6"},
  {a: "#f6a898", b: "#f8bba0", ab: "#f38c71"}
];

vennCounts.forEach(function(counts, i) {
  var c1 = vennLeft[i], c2 = vennLeft[i] + vennGap;
  var col = vennColors[i];
  var g = svg.append("g");

  svg.append("text")
    .attr("x", vennLetterX[i]).attr("y", 410)
    .style("font-family", slideFont).style("font-size", "23px").attr("fill", "#111")
    .text(vennLetters[i]);

  g.append("ellipse").attr("cx", c1).attr("cy", vennCy).attr("rx", vennRx).attr("ry", vennRy)
    .attr("fill", col.a);
  g.append("ellipse").attr("cx", c2).attr("cy", vennCy).attr("rx", vennRx).attr("ry", vennRy)
    .attr("fill", col.b);
  g.append("clipPath").attr("id", "vclip" + i)
    .append("ellipse").attr("cx", c1).attr("cy", vennCy).attr("rx", vennRx).attr("ry", vennRy);
  g.append("ellipse").attr("cx", c2).attr("cy", vennCy).attr("rx", vennRx).attr("ry", vennRy)
    .attr("fill", col.ab).attr("clip-path", `url(#vclip${i})`);

  // set names
  g.append("text").attr("x", c1 - 25).attr("y", 467).attr("text-anchor", "middle")
    .style("font-family", slideFont).style("font-size", "18.5px").attr("fill", "#111")
    .text(vennSets[0]);
  g.append("text").attr("x", c2 + 13).attr("y", 467).attr("text-anchor", "middle")
    .style("font-family", slideFont).style("font-size", "18.5px").attr("fill", "#111")
    .text(vennSets[1]);

  // counts
  var numX = [c1 - 7, (c1 + c2) / 2 + 1.5, c2 + 12];
  g.selectAll(".num").data(counts).enter().append("text")
    .attr("x", (d, k) => numX[k]).attr("y", 538)
    .attr("text-anchor", "middle")
    .style("font-family", slideFont).style("font-size", "25px").attr("fill", "#111")
    .text(d => d);

  // caption
  g.append("text").attr("x", (c1 + c2) / 2 + 5).attr("y", 621).attr("text-anchor", "middle")
    .style("font-family", slideFont).style("font-size", "23px").attr("fill", "#111")
    .text(vennTitles[i]);
  g.append("text").attr("x", (c1 + c2) / 2 + 4).attr("y", 649).attr("text-anchor", "middle")
    .style("font-family", slideFont).style("font-size", "23px").attr("fill", "#111")
    .text(vennLines[i]);
});
</script>
</body>
</html>
